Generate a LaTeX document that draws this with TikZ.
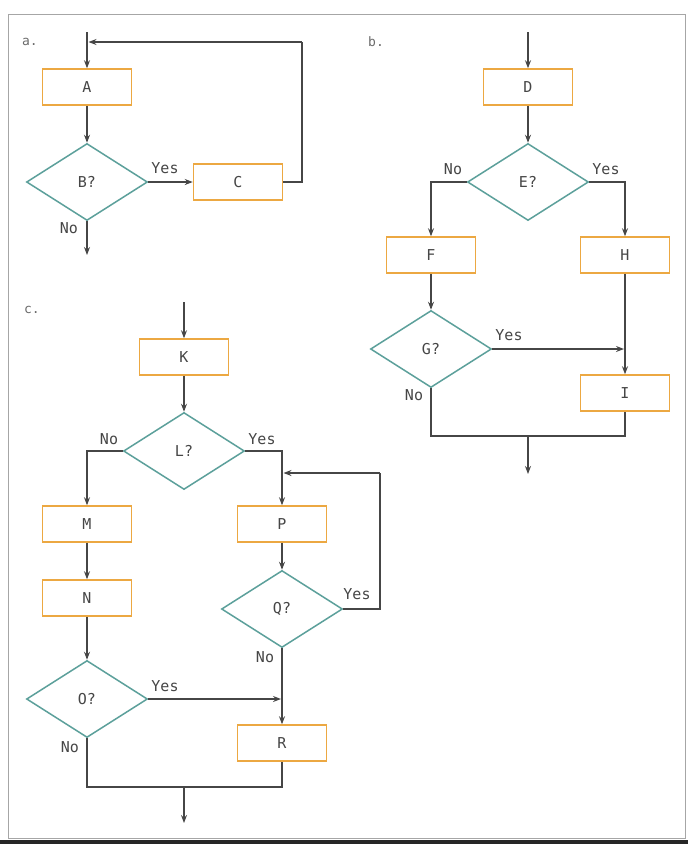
\documentclass[tikz,border=0pt]{standalone}
\usepackage{fontspec}
\setmainfont{DejaVu Sans Mono}
\usetikzlibrary{shapes.geometric,arrows.meta}
\definecolor{boxor}{RGB}{236,168,66}
\definecolor{diateal}{RGB}{92,160,155}
\definecolor{ln}{RGB}{70,70,70}
\definecolor{txt}{RGB}{70,70,70}
\begin{document}
\begin{tikzpicture}[x=1pt,y=-1pt,
  procbox/.style={draw=boxor,line width=1.5pt,minimum width=89pt,minimum height=36pt,inner sep=0pt,text=txt,font=\fontsize{15}{17}\selectfont},
  decide/.style={draw=diateal,line width=1.5pt,shape=diamond,shape aspect=1.57,minimum width=121pt,minimum height=77pt,inner sep=0pt,text=txt,font=\fontsize{15}{17}\selectfont},
  conn/.style={draw=ln,line width=1.2pt},
  arr/.style={conn,-{Stealth[length=8pt,width=6pt]}},
  lbl/.style={text=txt,font=\fontsize{15}{17}\selectfont,inner sep=0pt},
  panel/.style={text=txt!80,font=\fontsize{13}{15}\selectfont,inner sep=0pt}]
\useasboundingbox (0,0) rectangle (688,844);
\fill[white] (0,0) rectangle (688,844);
\draw[gray!70,line width=1pt] (8,14) rectangle (685,838);
\fill[black!85] (0,840) rectangle (688,844);

% ---------- panel a ----------
\node[panel] (la) at (30,42) {a.};
\node[procbox] (A) at (87,87) {A};
\node[decide] (B) at (87,182) {B?};
\node[procbox] (C) at (238,182) {C};
\coordinate (ain) at (87,32);
\coordinate (aout) at (87,255);
\coordinate (aback) at (87,42);
\coordinate (aturn) at (302,182);
\coordinate (aturn2) at (302,42);
\draw[arr] (ain) -- (A.north);
\draw[arr] (A.south) -- (B.north);
\draw[arr] (B.east) -- (C.west);
\draw[conn] (C.east) -- (aturn) -- (aturn2);
\draw[arr] (aturn2) -- ([xshift=1.5pt]aback);
\draw[arr] (B.south) -- (aout);
\node[lbl] (ay) at (165,168) {Yes};
\node[lbl] (an) at (69,228) {No};

% ---------- panel b ----------
\node[panel] (lb) at (376,42) {b.};
\node[procbox] (D) at (528,87) {D};
\node[decide] (E) at (528,182) {E?};
\node[procbox] (F) at (431,255) {F};
\node[procbox] (H) at (625,255) {H};
\node[decide] (G) at (431,349) {G?};
\node[procbox] (I) at (625,393) {I};
\coordinate (bin) at (528,32);
\coordinate (bjoin) at (528,436);
\coordinate (bout) at (528,474);
\coordinate (bmeet) at (625,349);
\draw[arr] (bin) -- (D.north);
\draw[arr] (D.south) -- (E.north);
\draw[arr] (E.west) -| (F.north);
\draw[arr] (E.east) -| (H.north);
\draw[arr] (F.south) -- (G.north);
\draw[arr] (H.south) -- (I.north);
\draw[arr] (G.east) -- ([xshift=-1pt]bmeet);
\draw[conn] (G.south) |- (bjoin) -| (I.south);
\draw[arr] (bjoin) -- (bout);
\node[lbl] (bn1) at (453,169) {No};
\node[lbl] (by1) at (606,169) {Yes};
\node[lbl] (by2) at (509,335) {Yes};
\node[lbl] (bn2) at (414,395) {No};

% ---------- panel c ----------
\node[panel] (lc) at (32,310) {c.};
\node[procbox] (K) at (184,357) {K};
\node[decide] (L) at (184,451) {L?};
\node[procbox] (M) at (87,524) {M};
\node[procbox] (P) at (282,524) {P};
\node[procbox] (N) at (87,598) {N};
\node[decide] (Q) at (282,609) {Q?};
\node[decide] (O) at (87,699) {O?};
\node[procbox] (R) at (282,743) {R};
\coordinate (cin) at (184,302);
\coordinate (cjoin) at (184,787);
\coordinate (cout) at (184,823);
\coordinate (cloop1) at (380,609);
\coordinate (cloop2) at (380,473);
\coordinate (cloopend) at (282,473);
\coordinate (cmeet) at (282,699);
\draw[arr] (cin) -- (K.north);
\draw[arr] (K.south) -- (L.north);
\draw[arr] (L.west) -| (M.north);
\draw[arr] (L.east) -| (P.north);
\draw[arr] (M.south) -- (N.north);
\draw[arr] (N.south) -- (O.north);
\draw[arr] (P.south) -- (Q.north);
\draw[conn] (Q.east) -- (cloop1) -- (cloop2);
\draw[arr] (cloop2) -- ([xshift=1.5pt]cloopend);
\draw[arr] (Q.south) -- (R.north);
\draw[arr] (O.east) -- ([xshift=-1pt]cmeet);
\draw[conn] (O.south) |- (cjoin) -| (R.south);
\draw[arr] (cjoin) -- (cout);
\node[lbl] (cn1) at (109,439) {No};
\node[lbl] (cy1) at (262,439) {Yes};
\node[lbl] (cy2) at (357,594) {Yes};
\node[lbl] (cn2) at (265,657) {No};
\node[lbl] (cy3) at (165,686) {Yes};
\node[lbl] (cn3) at (70,747) {No};
\end{tikzpicture}
\end{document}
